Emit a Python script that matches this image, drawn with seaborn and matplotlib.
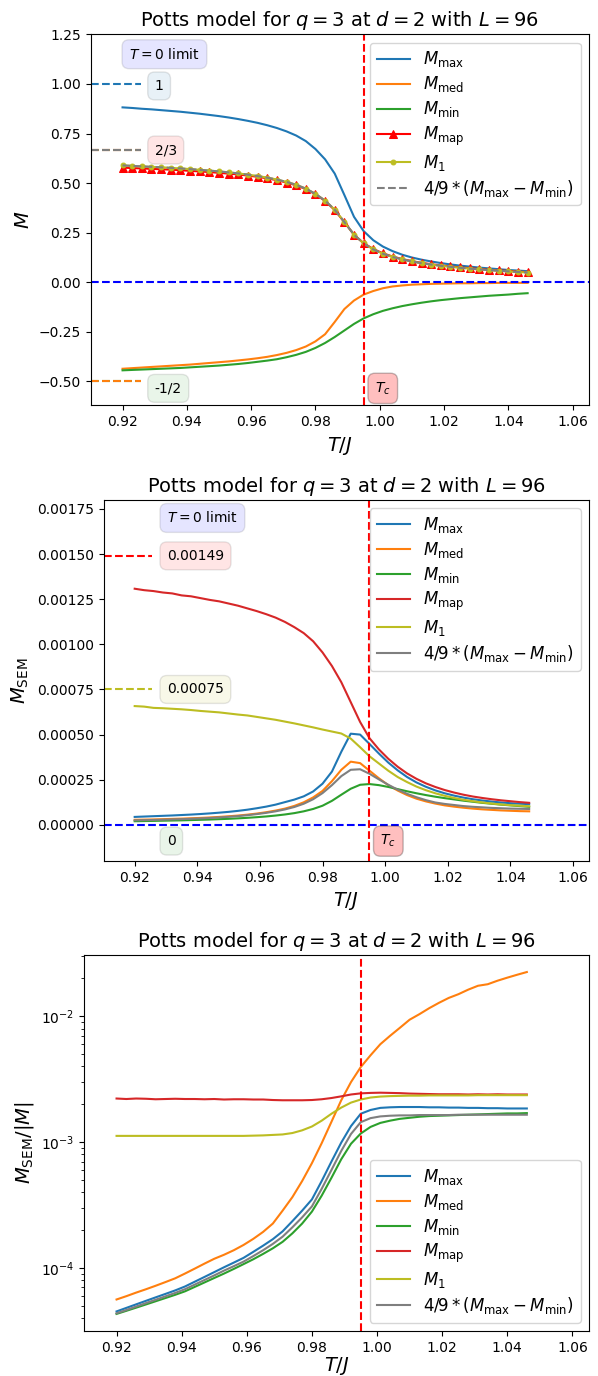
import numpy as np
import matplotlib
matplotlib.use("Agg")
import matplotlib.pyplot as plt
import seaborn as sns

# temperatures T/J
T = [0.920, 0.923, 0.926, 0.929, 0.932, 0.935, 0.938, 0.941, 0.944, 0.947,
     0.950, 0.953, 0.956, 0.959, 0.962, 0.965, 0.968, 0.971, 0.974, 0.977,
     0.980, 0.983, 0.986, 0.989, 0.992, 0.995, 0.998, 1.001, 1.004, 1.007,
     1.010, 1.013, 1.016, 1.019, 1.022, 1.025, 1.028, 1.031, 1.034, 1.037,
     1.040, 1.043, 1.046]

# --- magnetisation ---
M_max = [0.882, 0.879, 0.875, 0.872, 0.868, 0.864, 0.860, 0.855, 0.850, 0.844,
         0.838, 0.831, 0.823, 0.814, 0.804, 0.792, 0.778, 0.761, 0.740, 0.712,
         0.672, 0.620, 0.548, 0.440, 0.330, 0.258, 0.212, 0.180, 0.157, 0.139,
         0.125, 0.114, 0.105, 0.097, 0.090, 0.084, 0.079, 0.074, 0.070, 0.066,
         0.062, 0.059, 0.056]
M_med = [-0.436, -0.433, -0.430, -0.427, -0.424, -0.421, -0.418, -0.415, -0.411, -0.407,
         -0.403, -0.399, -0.394, -0.389, -0.383, -0.376, -0.367, -0.356, -0.342, -0.324,
         -0.298, -0.262, -0.200, -0.135, -0.092, -0.062, -0.044, -0.030, -0.021, -0.016,
         -0.012, -0.010, -0.008, -0.007, -0.006, -0.005, -0.005, -0.004, -0.004, -0.003,
         -0.003, -0.003, -0.003]
M_min = [-0.444, -0.442, -0.440, -0.438, -0.436, -0.434, -0.432, -0.429, -0.426, -0.423,
         -0.420, -0.416, -0.412, -0.407, -0.401, -0.395, -0.388, -0.378, -0.366, -0.351,
         -0.331, -0.306, -0.276, -0.243, -0.210, -0.182, -0.161, -0.144, -0.131, -0.120,
         -0.111, -0.103, -0.096, -0.090, -0.085, -0.080, -0.076, -0.072, -0.068, -0.065,
         -0.062, -0.058, -0.055]
M_map = [0.578, 0.576, 0.574, 0.572, 0.570, 0.568, 0.565, 0.562, 0.559, 0.556,
         0.552, 0.548, 0.544, 0.538, 0.532, 0.524, 0.515, 0.503, 0.489, 0.470,
         0.444, 0.410, 0.364, 0.303, 0.240, 0.197, 0.168, 0.146, 0.130, 0.117,
         0.107, 0.098, 0.091, 0.085, 0.080, 0.075, 0.071, 0.067, 0.063, 0.060,
         0.057, 0.054, 0.051]
M_1 = [0.589, 0.587, 0.584, 0.582, 0.580, 0.577, 0.574, 0.571, 0.567, 0.563,
       0.559, 0.554, 0.549, 0.543, 0.536, 0.528, 0.518, 0.506, 0.492, 0.472,
       0.446, 0.412, 0.366, 0.304, 0.240, 0.196, 0.166, 0.144, 0.128, 0.115,
       0.105, 0.096, 0.089, 0.083, 0.078, 0.073, 0.069, 0.065, 0.061, 0.058,
       0.055, 0.052, 0.049]

# --- standard error of the mean ---
S_max = [4.40e-5, 4.60e-5, 4.80e-5, 5.00e-5, 5.20e-5, 5.45e-5, 5.70e-5, 6.00e-5, 6.35e-5, 6.75e-5,
         7.20e-5, 7.75e-5, 8.40e-5, 9.20e-5, 1.01e-4, 1.12e-4, 1.26e-4, 1.40e-4, 1.58e-4, 1.85e-4,
         2.28e-4, 2.95e-4, 4.05e-4, 5.05e-4, 5.00e-4, 4.48e-4, 3.95e-4, 3.45e-4, 3.02e-4, 2.65e-4,
         2.35e-4, 2.11e-4, 1.91e-4, 1.75e-4, 1.62e-4, 1.51e-4, 1.42e-4, 1.35e-4, 1.29e-4, 1.24e-4,
         1.20e-4, 1.17e-4, 1.15e-4]
S_med = [2.80e-5, 2.90e-5, 3.00e-5, 3.15e-5, 3.30e-5, 3.45e-5, 3.65e-5, 3.85e-5, 4.10e-5, 4.40e-5,
         4.75e-5, 5.15e-5, 5.65e-5, 6.25e-5, 7.00e-5, 7.90e-5, 9.00e-5, 1.05e-4, 1.25e-4, 1.52e-4,
         1.88e-4, 2.42e-4, 3.05e-4, 3.50e-4, 3.42e-4, 3.00e-4, 2.58e-4, 2.20e-4, 1.90e-4, 1.65e-4,
         1.45e-4, 1.30e-4, 1.18e-4, 1.08e-4, 1.01e-4, 9.50e-5, 9.00e-5, 8.60e-5, 8.30e-5, 8.00e-5,
         7.80e-5, 7.60e-5, 7.50e-5]
S_min = [2.00e-5, 2.10e-5, 2.20e-5, 2.30e-5, 2.40e-5, 2.50e-5, 2.65e-5, 2.80e-5, 2.95e-5, 3.15e-5,
         3.35e-5, 3.60e-5, 3.90e-5, 4.25e-5, 4.65e-5, 5.15e-5, 5.75e-5, 6.50e-5, 7.50e-5, 8.80e-5,
         1.06e-4, 1.33e-4, 1.67e-4, 2.00e-4, 2.22e-4, 2.26e-4, 2.20e-4, 2.10e-4, 1.98e-4, 1.86e-4,
         1.75e-4, 1.65e-4, 1.56e-4, 1.48e-4, 1.41e-4, 1.34e-4, 1.28e-4, 1.22e-4, 1.17e-4, 1.12e-4,
         1.08e-4, 1.04e-4, 1.00e-4]
S_map = [1.308e-3, 1.300e-3, 1.295e-3, 1.287e-3, 1.282e-3, 1.271e-3, 1.266e-3, 1.256e-3, 1.246e-3, 1.238e-3,
         1.226e-3, 1.214e-3, 1.199e-3, 1.184e-3, 1.167e-3, 1.148e-3, 1.124e-3, 1.095e-3, 1.062e-3, 1.017e-3,
         9.55e-4, 8.80e-4, 7.90e-4, 6.80e-4, 5.70e-4, 4.80e-4, 4.18e-4, 3.66e-4, 3.22e-4, 2.85e-4,
         2.55e-4, 2.30e-4, 2.10e-4, 1.93e-4, 1.79e-4, 1.67e-4, 1.57e-4, 1.49e-4, 1.42e-4, 1.36e-4,
         1.31e-4, 1.26e-4, 1.22e-4]
S_1 = [6.58e-4, 6.55e-4, 6.48e-4, 6.46e-4, 6.43e-4, 6.40e-4, 6.36e-4, 6.31e-4, 6.27e-4, 6.23e-4,
       6.17e-4, 6.11e-4, 6.06e-4, 5.98e-4, 5.90e-4, 5.82e-4, 5.72e-4, 5.62e-4, 5.51e-4, 5.40e-4,
       5.28e-4, 5.17e-4, 5.06e-4, 4.78e-4, 4.30e-4, 3.80e-4, 3.40e-4, 3.00e-4, 2.65e-4, 2.37e-4,
       2.12e-4, 1.92e-4, 1.75e-4, 1.61e-4, 1.49e-4, 1.39e-4, 1.31e-4, 1.24e-4, 1.18e-4, 1.13e-4,
       1.09e-4, 1.06e-4, 1.03e-4]
S_diff = [2.50e-5, 2.60e-5, 2.70e-5, 2.85e-5, 3.00e-5, 3.15e-5, 3.35e-5, 3.55e-5, 3.80e-5, 4.10e-5,
          4.45e-5, 4.85e-5, 5.35e-5, 5.95e-5, 6.65e-5, 7.50e-5, 8.55e-5, 9.90e-5, 1.17e-4, 1.42e-4,
          1.76e-4, 2.20e-4, 2.70e-4, 3.05e-4, 3.08e-4, 2.83e-4, 2.52e-4, 2.22e-4, 1.95e-4, 1.72e-4,
          1.53e-4, 1.37e-4, 1.24e-4, 1.16e-4, 1.10e-4, 1.04e-4, 1.00e-4, 9.70e-5, 9.40e-5, 9.20e-5,
          9.00e-5, 8.90e-5, 8.80e-5]

# --- relative error SEM/|M| ---
R_max = [4.50e-5, 4.80e-5, 5.12e-5, 5.46e-5, 5.82e-5, 6.20e-5, 6.61e-5, 7.10e-5, 7.75e-5, 8.46e-5,
         9.24e-5, 1.01e-4, 1.10e-4, 1.20e-4, 1.34e-4, 1.50e-4, 1.69e-4, 1.95e-4, 2.35e-4, 2.85e-4,
         3.50e-4, 4.90e-4, 7.00e-4, 9.90e-4, 1.34e-3, 1.68e-3, 1.80e-3, 1.87e-3, 1.89e-3, 1.90e-3,
         1.90e-3, 1.90e-3, 1.89e-3, 1.89e-3, 1.88e-3, 1.88e-3, 1.87e-3, 1.87e-3, 1.86e-3, 1.86e-3,
         1.85e-3, 1.85e-3, 1.85e-3]
R_med = [5.60e-5, 5.95e-5, 6.35e-5, 6.75e-5, 7.20e-5, 7.70e-5, 8.25e-5, 9.00e-5, 9.85e-5, 1.08e-4,
         1.18e-4, 1.27e-4, 1.38e-4, 1.52e-4, 1.70e-4, 1.93e-4, 2.25e-4, 2.85e-4, 3.65e-4, 4.90e-4,
         6.80e-4, 9.80e-4, 1.45e-3, 2.15e-3, 3.00e-3, 3.95e-3, 4.90e-3, 6.00e-3, 7.00e-3, 8.10e-3,
         9.40e-3, 1.04e-2, 1.16e-2, 1.28e-2, 1.40e-2, 1.50e-2, 1.63e-2, 1.75e-2, 1.80e-2, 1.92e-2,
         2.03e-2, 2.14e-2, 2.25e-2]
R_min = [4.30e-5, 4.55e-5, 4.82e-5, 5.11e-5, 5.42e-5, 5.75e-5, 6.10e-5, 6.50e-5, 7.05e-5, 7.65e-5,
         8.30e-5, 9.00e-5, 9.80e-5, 1.07e-4, 1.17e-4, 1.29e-4, 1.43e-4, 1.61e-4, 1.88e-4, 2.25e-4,
         2.80e-4, 3.75e-4, 5.20e-4, 7.30e-4, 9.70e-4, 1.17e-3, 1.32e-3, 1.42e-3, 1.48e-3, 1.53e-3,
         1.56e-3, 1.59e-3, 1.61e-3, 1.62e-3, 1.63e-3, 1.64e-3, 1.65e-3, 1.66e-3, 1.67e-3, 1.68e-3,
         1.69e-3, 1.69e-3, 1.70e-3]
R_map = [2.22e-3, 2.20e-3, 2.22e-3, 2.21e-3, 2.19e-3, 2.20e-3, 2.21e-3, 2.20e-3, 2.20e-3, 2.19e-3,
         2.20e-3, 2.18e-3, 2.19e-3, 2.19e-3, 2.18e-3, 2.18e-3, 2.16e-3, 2.15e-3, 2.15e-3, 2.15e-3,
         2.16e-3, 2.19e-3, 2.24e-3, 2.31e-3, 2.39e-3, 2.44e-3, 2.46e-3, 2.47e-3, 2.46e-3, 2.45e-3,
         2.43e-3, 2.42e-3, 2.41e-3, 2.40e-3, 2.40e-3, 2.40e-3, 2.39e-3, 2.40e-3, 2.39e-3, 2.40e-3,
         2.39e-3, 2.39e-3, 2.39e-3]
R_1 = [1.12e-3, 1.12e-3, 1.12e-3, 1.12e-3, 1.12e-3, 1.12e-3, 1.12e-3, 1.12e-3, 1.12e-3, 1.12e-3,
       1.12e-3, 1.12e-3, 1.12e-3, 1.12e-3, 1.125e-3, 1.13e-3, 1.14e-3, 1.15e-3, 1.18e-3, 1.24e-3,
       1.33e-3, 1.48e-3, 1.68e-3, 1.88e-3, 2.06e-3, 2.18e-3, 2.26e-3, 2.30e-3, 2.32e-3, 2.33e-3,
       2.34e-3, 2.34e-3, 2.35e-3, 2.35e-3, 2.35e-3, 2.35e-3, 2.35e-3, 2.36e-3, 2.36e-3, 2.36e-3,
       2.36e-3, 2.36e-3, 2.36e-3]
R_diff = [4.35e-5, 4.62e-5, 4.92e-5, 5.24e-5, 5.57e-5, 5.93e-5, 6.31e-5, 6.76e-5, 7.35e-5, 8.00e-5,
          8.70e-5, 9.50e-5, 1.03e-4, 1.12e-4, 1.24e-4, 1.38e-4, 1.55e-4, 1.77e-4, 2.10e-4, 2.52e-4,
          3.08e-4, 4.25e-4, 6.00e-4, 8.50e-4, 1.16e-3, 1.44e-3, 1.55e-3, 1.60e-3, 1.62e-3, 1.63e-3,
          1.63e-3, 1.64e-3, 1.64e-3, 1.64e-3, 1.64e-3, 1.65e-3, 1.65e-3, 1.65e-3, 1.65e-3, 1.65e-3,
          1.65e-3, 1.65e-3, 1.65e-3]

labels = [r"$M_{\rm max}$", r"$M_{\rm med}$", r"$M_{\rm min}$", r"$M_{\rm map}$",
          r"$M_1$", r"$4/9*(M_{\rm max}-M_{\rm min})$"]
title = r"Potts model for $q=3$ at $d=2$ with $L=96$"
Tc = 1 / np.log(1 + np.sqrt(3))

M_diff = 4 / 9 * (np.array(M_max) - np.array(M_min))

fig = plt.figure(figsize=(5.98, 13.76), dpi=100)
ax1 = fig.add_axes([0.1517, 0.7055, 0.8333, 0.2695])
ax2 = fig.add_axes([0.1734, 0.3743, 0.8115, 0.2624])
ax3 = fig.add_axes([0.1410, 0.0327, 0.8440, 0.2733])

box = lambda c, a=0.1: dict(boxstyle="round,pad=0.5", facecolor=c, alpha=a)

# ---------- panel 1 ----------
ax = ax1
sns.lineplot(x=T, y=M_max, ax=ax, color="C0", label=labels[0], errorbar=None)
sns.lineplot(x=T, y=M_med, ax=ax, color="C1", label=labels[1], errorbar=None)
sns.lineplot(x=T, y=M_min, ax=ax, color="C2", label=labels[2], errorbar=None)
sns.lineplot(x=T, y=M_map, ax=ax, color="r", marker="^", markersize=6,
             mec="r", label=labels[3], errorbar=None)
sns.lineplot(x=T, y=M_1, ax=ax, color="C8", marker=".", markersize=7,
             mec="C8", label=labels[4], errorbar=None)
sns.lineplot(x=T, y=M_diff, ax=ax, color="C7", linestyle="--", label=labels[5], errorbar=None)
ax.axhline(1, xmax=0.1, color="C0", ls="--")
ax.axhline(2 / 3, xmax=0.1, color="r", ls="--")
ax.axhline(2 / 3, xmax=0.1, color="C8", ls="--")
ax.axhline(2 / 3, xmax=0.1, color="C7", ls="--")
ax.axhline(-0.5, xmax=0.1, color="C2", ls="--")
ax.axhline(-0.5, xmax=0.1, color="C1", ls="--")
ax.axhline(0, color="b", ls="--")
ax.axvline(Tc, color="r", ls="--")
ax.text(0.922, 1.15, r"$T=0$ limit", va="center", bbox=box("b"))
ax.text(0.930, 0.99, "1", va="center", bbox=box("C0"))
ax.text(0.930, 0.667, "2/3", va="center", bbox=box("r"))
ax.text(0.930, -0.535, "-1/2", va="center", bbox=box("C2"))
ax.text(0.9985, -0.535, r"$T_c$", va="center", bbox=box("r", 0.25))
ax.set_xlim(0.9101, 1.0651)
ax.set_ylim(-0.62, 1.25)
ax.set_title(title, fontsize=14)
ax.set_xlabel(r"$T/J$", fontsize=14)
ax.set_ylabel(r"$M$", fontsize=14)
ax.legend(loc="upper right", fontsize=12, labelspacing=0.3)

# ---------- panel 2 ----------
ax = ax2
for y, c, lab in zip([S_max, S_med, S_min, S_map, S_1, S_diff],
                     ["C0", "C1", "C2", "C3", "C8", "C7"], labels):
    sns.lineplot(x=T, y=y, ax=ax, color=c, label=lab, errorbar=None)
ax.axhline(0.00149, xmax=0.1, color="r", ls="--")
ax.axhline(0.00075, xmax=0.1, color="C8", ls="--")
ax.axhline(0, color="b", ls="--")
ax.axvline(Tc, color="r", ls="--")
ax.text(0.9303, 0.0017, r"$T=0$ limit", va="center", bbox=box("b"))
ax.text(0.9303, 0.00149, "0.00149", va="center", bbox=box("r"))
ax.text(0.9303, 0.00075, "0.00075", va="center", bbox=box("C8"))
ax.text(0.9303, -0.00009, "0", va="center", bbox=box("C2"))
ax.text(0.9985, -0.00009, r"$T_c$", va="center", bbox=box("r", 0.25))
ax.set_xlim(0.9101, 1.0651)
ax.set_ylim(-0.0002, 0.0018)
ax.set_title(title, fontsize=14)
ax.set_xlabel(r"$T/J$", fontsize=14)
ax.set_ylabel(r"$M_{\rm SEM}$", fontsize=14)
ax.legend(loc="upper right", fontsize=12, labelspacing=0.3)

# ---------- panel 3 ----------
ax = ax3
for y, c, lab in zip([R_max, R_med, R_min, R_map, R_1, R_diff],
                     ["C0", "C1", "C2", "C3", "C8", "C7"], labels):
    sns.lineplot(x=T, y=y, ax=ax, color=c, label=lab, errorbar=None)
ax.set_yscale("log")
ax.axvline(Tc, color="r", ls="--")
ax.set_xlim(0.9101, 1.0651)
ax.set_title(title, fontsize=14)
ax.set_xlabel(r"$T/J$", fontsize=14, labelpad=0)
ax.set_ylabel(r"$M_{\rm SEM}/|M|$", fontsize=14)
ax.legend(loc="lower right", fontsize=12, labelspacing=0.3)

fig.savefig("out.png", dpi=100)
